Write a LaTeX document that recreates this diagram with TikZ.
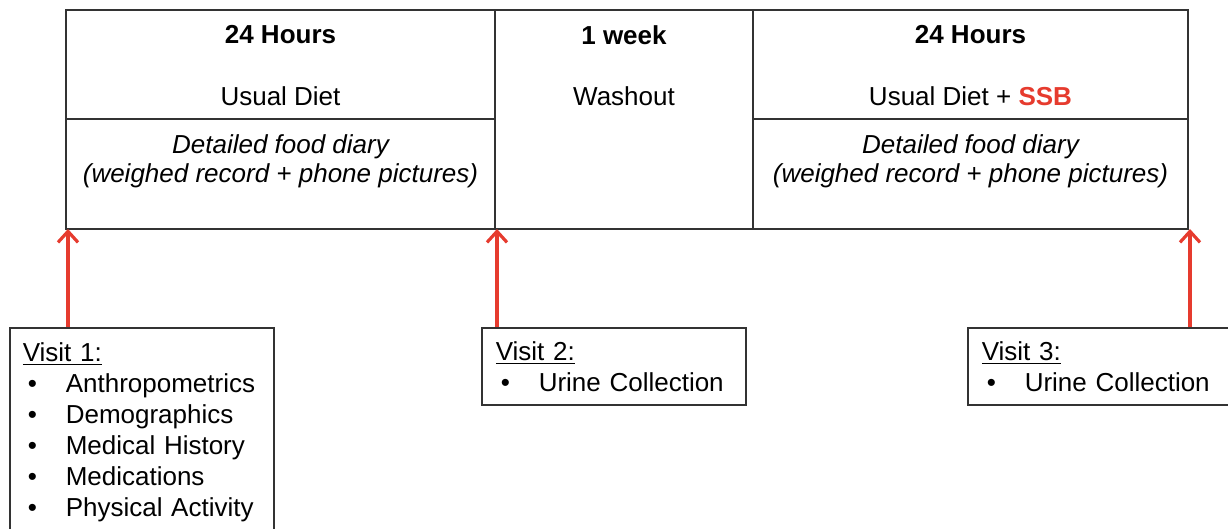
\documentclass[tikz,border=0pt]{standalone}
\usepackage{fontspec}
\setmainfont{Liberation Sans}
\usetikzlibrary{arrows.meta}
\definecolor{visitred}{HTML}{E63B2E}
\tikzset{
  visitbox/.style={draw=black!80, line width=0.8pt, anchor=north west, align=left,
    font=\fontsize{13}{15.5}\selectfont, inner ysep=2pt},
  visitarrow/.style={draw=visitred, line width=1.6pt,
    -{Straight Barb[length=5.5pt,width=10pt,line width=1.6pt]}},
  celltext/.style={font=\fontsize{13}{14.5}\selectfont, align=center, inner sep=0pt},
}
\newcommand{\bul}{\makebox[21.5pt][l]{\hspace{2.5pt}\textbullet}}
\begin{document}
\begin{tikzpicture}[x=0.5pt,y=-0.5pt]
    \useasboundingbox (0,0) rectangle (1228,529);
    % usual diet
    \draw [draw=black!80, line width=0.8pt] (66,10) rectangle (495,229);
    \draw [draw=black!80, line width=0.8pt] (66,119) -- (495,119);
    \node [celltext] (hours1) at (280.5,35) {\textbf{24 Hours}};
    \node [celltext] (diet1) at (280.5,96) {Usual Diet};
    \node [celltext] (diary1) at (280.5,161) {\itshape Detailed food diary\\ \itshape (weighed record + phone pictures)};
    % washout
    \draw [draw=black!80, line width=0.8pt] (495,10) rectangle (753,229);
    \node [celltext] (week) at (624,35) {\textbf{1 week}};
    \node [celltext] (washout) at (624,96) {Washout};
    % usual diet + ssb
    \draw [draw=black!80, line width=0.8pt] (753,10) rectangle (1188,229);
    \draw [draw=black!80, line width=0.8pt] (753,119) -- (1188,119);
    \node [celltext] (hours2) at (970.5,35) {\textbf{24 Hours}};
    \node [celltext] (diet2) at (970.5,96) {Usual Diet + \textcolor{visitred}{\textbf{SSB}}};
    \node [celltext] (diary2) at (970.5,161) {\itshape Detailed food diary\\ \itshape (weighed record + phone pictures)};
    % time points
    \coordinate (t1) at (68,229);
    \coordinate (t2) at (497,229);
    \coordinate (t3) at (1190,229);
    % visits
    \node [visitbox, inner xsep=6.5pt, text width=119pt, minimum height=104pt] (visit1) at (9,327)
      {\underline{Visit 1:}\\ \bul Anthropometrics\\ \bul Demographics\\ \bul Medical History\\ \bul Medications\\ \bul Physical Activity};
    \node [visitbox, inner xsep=7pt, text width=118pt, minimum height=38.5pt] (visit2) at (481,327)
      {\underline{Visit 2:}\\ \bul Urine Collection};
    \node [visitbox, inner xsep=7pt, text width=125pt, minimum height=38.5pt] (visit3) at (967,327)
      {\underline{Visit 3:}\\ \bul Urine Collection};
    % arrows
    \draw [visitarrow] (visit1.north -| t1) -- (t1);
    \draw [visitarrow] (visit2.north -| t2) -- (t2);
    \draw [visitarrow] (visit3.north -| t3) -- (t3);
\end{tikzpicture}
\end{document}
